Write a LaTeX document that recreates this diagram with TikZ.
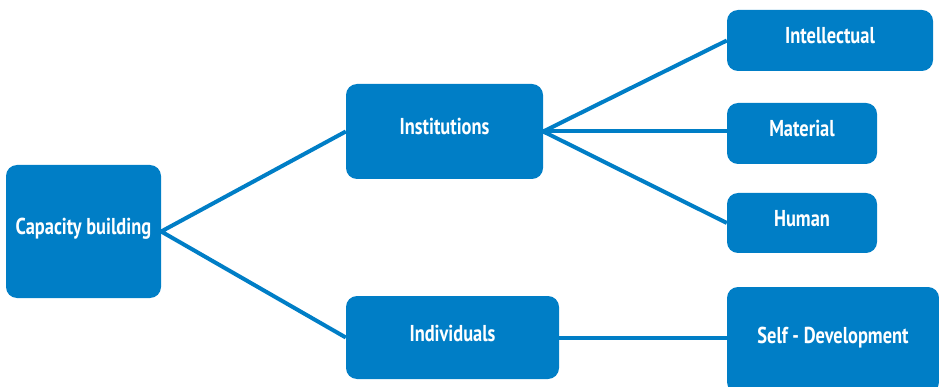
\documentclass[tikz,border=0pt]{standalone}
\usepackage{fontspec}
\newfontfamily\boxfont{PT Sans}[FakeStretch=0.8]
\definecolor{boxblue}{RGB}{0, 126, 198}
\usetikzlibrary{positioning}

\begin{document}
\begin{tikzpicture}[x=1pt, y=-1pt,
  box/.style={fill=boxblue, rounded corners=11pt, text=white, align=center,
    inner sep=0pt, text height=16pt, text depth=9pt,
    font=\boxfont\bfseries\fontsize{23}{26}\selectfont},
  link/.style={boxblue, line width=4pt}]
  \useasboundingbox (0,0) rectangle (939,387);
  \clip (0,0) rectangle (939,387);

  % Root box on the left
  \node[box, minimum width=155pt, minimum height=133pt] (cap) at (83.5, 231.5) {Capacity building};

  % Middle level
  \node[box, minimum width=197pt, minimum height=95pt] (inst) at (444.5, 131.5) {Institutions};
  \node[box, minimum width=213pt, minimum height=83pt] (indiv) at (452.5, 337.5) {Individuals};

  % Right column
  \node[box, minimum width=206pt, minimum height=61pt] (intel) at (830, 40.5) {Intellectual};
  \node[box, minimum width=150pt, minimum height=61pt] (mat) at (802, 133.5) {Material};
  \node[box, minimum width=150pt, minimum height=60pt] (hum) at (802, 223) {Human};
  \node[box, minimum width=212pt, minimum height=106pt] (self) at (833, 340) {Self - Development};

  % Connectors
  \draw[link] (inst.west) -- (cap.east) -- (indiv.west);
  \draw[link] (intel.west) -- (inst.east) -- (hum.west);
  \draw[link] (inst.east) -- (inst.east -| mat.west);
  \draw[link] (indiv.east) -- (indiv.east -| self.west);
\end{tikzpicture}
\end{document}
